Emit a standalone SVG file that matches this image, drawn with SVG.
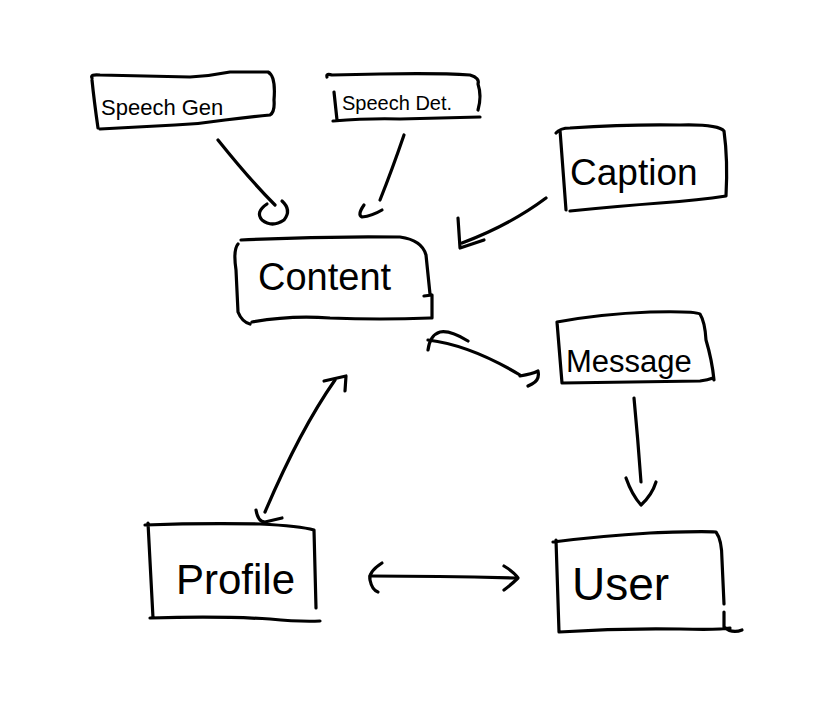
<svg xmlns="http://www.w3.org/2000/svg" width="836" height="712" viewBox="0 0 836 712">
<style>
.s{fill:none;stroke:#000;stroke-width:3.2;stroke-linecap:round;stroke-linejoin:round}
.t{font-family:"Liberation Sans","DejaVu Sans",sans-serif;fill:#000}
</style>
<rect width="836" height="712" fill="#fff"/>
<g id="speech-gen">
<path class="s" d="M92 78 Q90 74 100 75 L190 77 Q210 76 230 72 L268 72 Q276 76 274 100 Q275 112 270 115 Q250 117 225 120 Q200 124 175 125 L100 129 M92 80 Q94 100 98 128"/>
<text class="t" x="101" y="115" font-size="22">Speech Gen</text>
</g>
<g id="speech-det">
<path class="s" d="M327 77 Q326 73 332 75 L380 74 Q440 73 470 75 Q480 78 478 84 Q482 96 478 110 M334 92 L337 120 M333 121 Q370 118 400 119 L480 117"/>
<text class="t" x="342" y="110" font-size="20">Speech Det.</text>
</g>
<g id="caption">
<path class="s" d="M556 133 Q560 128 570 128 Q630 124 680 125 Q718 124 724 131 Q728 160 726 196 Q700 200 660 203 Q620 206 570 211 M560 130 L566 210"/>
<text class="t" x="570" y="185" font-size="37">Caption</text>
</g>
<g id="content">
<path class="s" d="M241 240 Q320 236 400 237 Q422 240 426 255 L430 294 M424 296 L432 295 L432 318 M238 244 Q233 250 236 270 L238 312 Q242 322 250 324 M252 322 Q290 315 330 318 Q380 320 430 318"/>
<text class="t" x="258" y="290" font-size="38">Content</text>
</g>
<g id="message">
<path class="s" d="M557 322 Q600 314 650 312 Q695 311 700 314 Q705 322 706 340 Q712 360 714 380 M557 322 L562 383 M562 383 L700 381 Q708 380 713 378"/>
<text class="t" x="566" y="372" font-size="31">Message</text>
</g>
<g id="profile">
<path class="s" d="M145 525 Q200 523 260 524 Q300 526 314 530 L316 608 M148 523 L153 618 M150 618 Q220 616 270 619 Q300 622 320 621"/>
<text class="t" x="176" y="594" font-size="42">Profile</text>
</g>
<g id="user">
<path class="s" d="M553 542 Q600 536 650 533 Q700 531 716 532 Q722 540 722 560 L724 604 M556 540 L559 632 M559 632 Q620 628 680 629 Q720 630 730 628 M724 612 L724 627 Q732 634 742 630"/>
<text class="t" x="572" y="600" font-size="46">User</text>
</g>
<g id="connectors">
<path class="s" d="M218 140 Q250 180 275 205"/>
<path class="s" d="M267 204 Q255 212 262 220 Q272 228 284 220 Q292 210 282 201"/>
<path class="s" d="M404 135 Q392 170 380 200"/>
<path class="s" d="M364 205 Q357 215 362 217 Q372 216 382 210"/>
<path class="s" d="M546 198 Q510 225 462 243"/>
<path class="s" d="M458 218 L460 248 M460 248 Q472 244 484 240"/>
<path class="s" d="M428 340 Q470 345 520 375"/>
<path class="s" d="M428 350 Q430 335 440 332 Q450 330 468 341 M520 376 Q532 374 538 371 Q540 380 532 384 L528 386"/>
<path class="s" d="M634 398 Q638 440 641 482"/>
<path class="s" d="M626 478 Q632 495 641 505 Q652 495 656 482"/>
<path class="s" d="M335 380 Q300 430 265 512"/>
<path class="s" d="M324 381 L346 376 L345 391"/>
<path class="s" d="M256 510 Q258 522 265 522 L282 518"/>
<path class="s" d="M370 576 Q440 576 515 578"/>
<path class="s" d="M382 563 Q368 572 370 580 Q372 590 378 592"/>
<path class="s" d="M504 566 Q514 572 518 578 Q512 584 504 590"/>
</g>
</svg>
